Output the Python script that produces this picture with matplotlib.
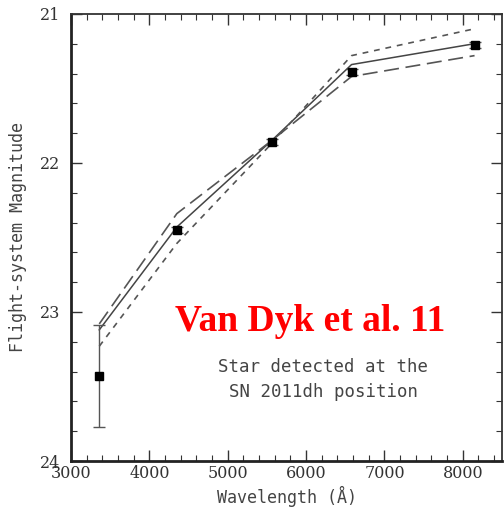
import matplotlib
matplotlib.use("Agg")
import matplotlib.pyplot as plt
from matplotlib.ticker import MultipleLocator

# photometry of the star (flight-system magnitudes)
wave = [3360, 4350, 5560, 6580, 8150]
mag = [23.43, 22.45, 21.86, 21.39, 21.21]
mag_err = [0.34, 0.02, 0.02, 0.02, 0.02]

# model SEDs
model_solid = [23.12, 22.43, 21.85, 21.34, 21.20]
model_long = [23.08, 22.34, 21.85, 21.42, 21.28]
model_short = [23.23, 22.54, 21.87, 21.28, 21.10]

fig = plt.figure(figsize=(5.04, 5.14), dpi=100)
ax = fig.add_axes([0.141, 0.103, 0.855, 0.870])

line_col = "#555555"
ax.plot(wave, model_solid, color="#444444", lw=1.1)
ax.plot(wave, model_long, color=line_col, lw=1.2, dashes=(9, 4))
ax.plot(wave, model_short, color=line_col, lw=1.2, dashes=(3.5, 3.5))
ax.errorbar(wave, mag, yerr=mag_err, fmt="s", color="black", ms=5.5,
            ecolor="#555555", elinewidth=1.0, capsize=4, capthick=1.0)

ax.set_xlim(3000, 8500)
ax.set_ylim(24, 21)
ax.xaxis.set_major_locator(MultipleLocator(1000))
ax.xaxis.set_minor_locator(MultipleLocator(200))
ax.yaxis.set_major_locator(MultipleLocator(1))
ax.yaxis.set_minor_locator(MultipleLocator(0.2))
ax.tick_params(which="both", direction="in", top=True, right=True, colors="#333333")
ax.tick_params(which="major", length=8, width=1.0, labelsize=11.5)
ax.tick_params(axis="x", which="major", pad=3)
ax.tick_params(axis="y", which="major", pad=8)
ax.tick_params(which="minor", length=4.5, width=0.8)
for lab in ax.get_xticklabels() + ax.get_yticklabels():
    lab.set_family("DejaVu Serif")
    lab.set_color("#333333")

for side in ["left", "bottom"]:
    ax.spines[side].set_linewidth(2.0)
    ax.spines[side].set_color("#222222")
for side in ["top", "right"]:
    ax.spines[side].set_linewidth(1.3)
    ax.spines[side].set_color("#333333")

ax.set_xlabel("Wavelength (Å)", family="DejaVu Sans Mono", fontsize=12,
              color="#444444", labelpad=3)
ax.set_ylabel("Flight-system Magnitude", family="DejaVu Sans Mono", fontsize=12,
              color="#444444", labelpad=9)

ax.text(0.555, 0.311, "Van Dyk et al. 11", transform=ax.transAxes, color="red",
        family="Liberation Serif", fontweight="bold", fontsize=27, ha="center", va="center")
ax.text(0.585, 0.182, "Star detected at the\nSN 2011dh position", transform=ax.transAxes,
        color="#444444", family="DejaVu Sans Mono", fontsize=12.5, ha="center", va="center",
        linespacing=1.5)

fig.savefig("out.png", dpi=100)
